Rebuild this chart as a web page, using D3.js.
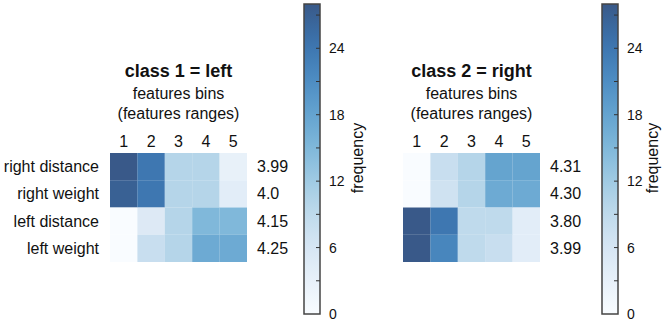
<!DOCTYPE html>
<html>
<head>
<meta charset="utf-8">
<script src="https://cdn.jsdelivr.net/npm/d3@7"></script>
<style>
	body { margin: 0; background: #fff; }
	svg text { font-family: "Liberation Sans", Arial, sans-serif; fill: #111; }
</style>
</head>
<body>
<svg id="chart" width="665" height="323"></svg>
<script>
// Data
var bins = ["1", "2", "3", "4", "5"];

var leftTitle = "class 1 = left";
var leftRows = ["right distance", "right weight", "left distance", "left weight"];
var leftScores = ["3.99", "4.0", "4.15", "4.25"];
var leftFreq = [
	[28, 24, 10, 10, 3],
	[27, 24, 10, 10, 4],
	[0, 5, 10, 15, 15],
	[0, 8, 10, 17, 17]
];

var rightTitle = "class 2 = right";
var rightScores = ["4.31", "4.30", "3.80", "3.99"];
var rightFreq = [
	[0, 8, 10, 18, 18],
	[0, 7, 10, 17, 17],
	[28, 24, 9, 9, 4],
	[28, 22, 9, 8, 4]
];

var cbTicks = [0, 6, 12, 18, 24];
var cbMinor = [3, 9, 15, 21, 27];
var freqMax = 28;

var svg = d3.select("#chart");
var color = d3.scaleSequential(d3.interpolateBlues).domain([0, freqMax]);

// one heatmap block (title, bins, cells, row labels, scores)
function drawPanel(x0, title, rowLabels, scores, freq) {
	var xScale = d3.scaleBand().domain(bins).range([x0, x0 + 137]);
	var yScale = d3.scaleBand().domain(d3.range(scores.length)).range([153, 262]);
	var cx = x0 + 68.5;

	svg.append("text").attr("x", cx).attr("y", 77).attr("text-anchor", "middle")
		.style("font-size", "18px").style("font-weight", "bold").text(title);
	svg.append("text").attr("x", cx).attr("y", 99).attr("text-anchor", "middle")
		.style("font-size", "16px").text("features bins");
	svg.append("text").attr("x", cx).attr("y", 119).attr("text-anchor", "middle")
		.style("font-size", "16px").text("(features ranges)");

	var cells = [];
	freq.forEach(function(row, i) {
		row.forEach(function(v, j) {
			cells.push({ r: i, c: bins[j], v: v });
		});
	});

	svg.append("g").selectAll("rect").data(cells).enter().append("rect")
		.attr("x", function(d) { return xScale(d.c); })
		.attr("y", function(d) { return yScale(d.r); })
		.attr("width", xScale.bandwidth())
		.attr("height", yScale.bandwidth())
		.attr("fill", function(d) { return color(d.v); })
		.attr("fill-opacity", 0.8);

	// bin numbers on top
	svg.append("g").selectAll("text").data(bins).enter().append("text")
		.attr("x", function(d) { return xScale(d) + xScale.bandwidth() / 2; })
		.attr("y", 147).attr("text-anchor", "middle")
		.style("font-size", "16px").text(function(d) { return d; });

	if (rowLabels) {
		svg.append("g").selectAll("text").data(rowLabels).enter().append("text")
			.attr("x", x0 - 11)
			.attr("y", function(d, i) { return yScale(i) + yScale.bandwidth() / 2; })
			.attr("dy", "0.35em").attr("text-anchor", "end")
			.style("font-size", "16px").text(function(d) { return d; });
	}

	svg.append("g").selectAll("text").data(scores).enter().append("text")
		.attr("x", x0 + 147)
		.attr("y", function(d, i) { return yScale(i) + yScale.bandwidth() / 2; })
		.attr("dy", "0.35em")
		.style("font-size", "16px").text(function(d) { return d; });
}

// colorbar with gradient, minor ticks and "frequency" label
var gradId = 0;
function drawColorbar(x0, labelX) {
	var yScale = d3.scaleLinear().domain([0, freqMax]).range([314, 4]);
	var w = 16;
	var id = "cbgrad" + (gradId++);
	var grad = svg.append("defs").append("linearGradient").attr("id", id)
		.attr("x1", 0).attr("y1", 1).attr("x2", 0).attr("y2", 0);
	d3.range(0, 1.0001, 0.05).forEach(function(t) {
		grad.append("stop").attr("offset", t).attr("stop-color", color(t * freqMax))
			.attr("stop-opacity", 0.8);
	});
	svg.append("rect").attr("x", x0).attr("y", yScale(freqMax))
		.attr("width", w).attr("height", yScale(0) - yScale(freqMax))
		.attr("fill", "url(#" + id + ")")
		.attr("stroke", "#444").attr("stroke-width", 1.5);

	svg.append("g").selectAll("line").data(cbTicks.concat(cbMinor).filter(function(v) { return v > 0; }))
		.enter().append("line")
		.attr("x1", x0 + w - 4).attr("x2", x0 + w)
		.attr("y1", function(d) { return yScale(d); })
		.attr("y2", function(d) { return yScale(d); })
		.attr("stroke", "#333").attr("stroke-width", 1);

	var axis = d3.axisRight(yScale).tickValues(cbTicks).tickSize(0).tickPadding(9);
	var g = svg.append("g").attr("transform", "translate(" + (x0 + w) + ",0)").call(axis);
	g.select(".domain").remove();
	g.selectAll("text").style("font-size", "14px").attr("fill", "#111")
		.style("font-family", "'Liberation Sans', Arial, sans-serif");

	svg.append("text").attr("transform", "translate(" + labelX + ",158) rotate(-90)")
		.attr("text-anchor", "middle").attr("dy", "0.35em")
		.style("font-size", "16px").text("frequency");
}

drawPanel(110, leftTitle, leftRows, leftScores, leftFreq);
drawPanel(403, rightTitle, null, rightScores, rightFreq);
drawColorbar(304, 357);
drawColorbar(602, 652);
</script>
</body>
</html>
